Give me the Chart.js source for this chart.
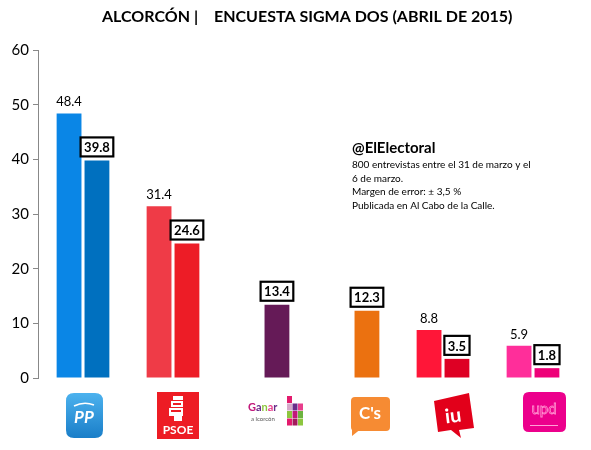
<!DOCTYPE html>
<html><head><meta charset="utf-8">
<script src="https://cdn.jsdelivr.net/npm/chart.js@4"></script>
<style>html,body{margin:0;padding:0;background:#fff}#wrap{width:591px;height:450px}</style>
</head><body><div id="wrap"><canvas id="c" width="591" height="450"></canvas></div>
<script>
const categories = ["PP", "PSOE", "Ganar Alcorcón", "C's", "IU", "UPyD"];
const series2011 = [48.4, 31.4, null, null, 8.8, 5.9];
const series2015 = [39.8, 24.6, 13.4, 12.3, 3.5, 1.8];
const colors2011 = ["#0A86E6", "#EF3B47", "#651A57", "#EB7110", "#FF1638", "#FF2E9A"];
const colors2015 = ["#0070BF", "#ED1C26", "#651A57", "#EB7110", "#DE0024", "#EE0078"];
const yTicks = [0, 10, 20, 30, 40, 50, 60];
const titleLeft = "ALCORCÓN |";
const titleRight = "ENCUESTA SIGMA DOS (ABRIL DE 2015)";
const noteTitle = "@ElElectoral";
const noteLines = ["800 entrevistas entre el 31 de marzo y el", "6 de marzo.", "Margen de error: ± 3,5 %", "Publicada en Al Cabo de la Calle."];
const FONT = "Lato, 'Open Sans', sans-serif";

function rr(ctx, x, y, w, h, r) {
  ctx.beginPath();
  ctx.moveTo(x + r, y); ctx.lineTo(x + w - r, y); ctx.quadraticCurveTo(x + w, y, x + w, y + r);
  ctx.lineTo(x + w, y + h - r); ctx.quadraticCurveTo(x + w, y + h, x + w - r, y + h);
  ctx.lineTo(x + r, y + h); ctx.quadraticCurveTo(x, y + h, x, y + h - r);
  ctx.lineTo(x, y + r); ctx.quadraticCurveTo(x, y, x + r, y); ctx.closePath();
}

const drawLogos = {
  PP(ctx, cx, top) {
    const g = ctx.createLinearGradient(0, top, 0, top + 45);
    g.addColorStop(0, "#4db3ef"); g.addColorStop(1, "#1b7fc9");
    ctx.fillStyle = g; rr(ctx, cx - 18, top + 1, 37, 45, 8); ctx.fill();
    ctx.fillStyle = "#fff"; ctx.font = "italic bold 17px " + FONT; ctx.textAlign = "center"; ctx.textBaseline = "middle";
    ctx.fillText("PP", cx, top + 26);
    ctx.beginPath(); ctx.moveTo(cx - 10, top + 14); ctx.quadraticCurveTo(cx, top + 9, cx + 10, top + 13);
    ctx.strokeStyle = "#fff"; ctx.lineWidth = 1.5; ctx.stroke();
  },
  PSOE(ctx, cx, top) {
    ctx.fillStyle = "#ED1C24"; ctx.fillRect(cx - 21, top, 42, 47);
    ctx.fillStyle = "#fff";
    ctx.fillRect(cx - 5, top + 4, 10, 4); ctx.fillRect(cx - 7, top + 9, 12, 6); ctx.fillRect(cx - 9, top + 16, 14, 8); ctx.fillRect(cx - 4, top + 24, 8, 5);
    ctx.fillStyle = "#ED1C24"; ctx.fillRect(cx - 5, top + 11, 8, 2); ctx.fillRect(cx - 7, top + 18, 10, 2);
    ctx.fillStyle = "#fff"; ctx.font = "bold 12px " + FONT; ctx.textAlign = "center"; ctx.textBaseline = "middle";
    ctx.fillText("PSOE", cx, top + 38);
  },
  Ganar(ctx, cx, top) {
    ctx.textAlign = "left"; ctx.textBaseline = "alphabetic";
    ctx.font = "bold 11px " + FONT;
    const parts = [["G", "#c2187a"], ["a", "#6a2c8a"], ["n", "#8dc63f"], ["a", "#e83e8c"], ["r", "#6a2c8a"]];
    let x = cx - 29;
    parts.forEach(([t, c]) => { ctx.fillStyle = c; ctx.fillText(t, x, top + 18); x += ctx.measureText(t).width; });
    ctx.font = "6px " + FONT; ctx.fillStyle = "#555"; ctx.fillText("a lcorcón", cx - 26, top + 28);
    const gc = ["#e31b6d", "#a3195b", "#8dc63f", "#d6a8c9", "#6a2c8a", "#e83e8c", "#8dc63f", "#c2187a", "#6cb33f"];
    for (let i = 0; i < 4; i++) for (let j = 0; j < 3; j++) {
      if (i === 0 && j > 0) continue;
      ctx.fillStyle = gc[(i * 3 + j) % gc.length];
      ctx.fillRect(cx + 10 + j * 5.5, top + 3 + i * 7.5, 5, 7);
    }
  },
  Cs(ctx, cx, top) {
    ctx.fillStyle = "#F68B33"; rr(ctx, cx - 19, top + 3, 39, 34, 4); ctx.fill();
    ctx.beginPath(); ctx.moveTo(cx - 18, top + 34); ctx.lineTo(cx - 18, top + 42); ctx.lineTo(cx - 8, top + 34); ctx.closePath(); ctx.fill();
    ctx.fillStyle = "#fff"; ctx.font = "bold 17px " + FONT; ctx.textAlign = "center"; ctx.textBaseline = "middle";
    ctx.fillText("C's", cx, top + 20);
  },
  IU(ctx, cx, top) {
    ctx.fillStyle = "#E2001A";
    ctx.beginPath(); ctx.moveTo(cx - 19, top + 9); ctx.lineTo(cx + 16, top + 1); ctx.lineTo(cx + 21, top + 36);
    ctx.lineTo(cx + 6, top + 38); ctx.lineTo(cx + 8, top + 46); ctx.lineTo(cx - 2, top + 38); ctx.lineTo(cx - 15, top + 40); ctx.closePath(); ctx.fill();
    ctx.fillStyle = "#fff"; ctx.font = "bold 20px " + FONT; ctx.textAlign = "center"; ctx.textBaseline = "middle";
    ctx.save(); ctx.translate(cx, top + 24); ctx.rotate(-0.12); ctx.fillText("iu", 0, 0); ctx.restore();
  },
  UPyD(ctx, cx, top) {
    ctx.fillStyle = "#EC008C"; rr(ctx, cx - 21, top, 43, 40, 6); ctx.fill();
    ctx.strokeStyle = "#ff8fcf"; ctx.lineWidth = 0.8; ctx.font = "15px " + FONT; ctx.textAlign = "center"; ctx.textBaseline = "middle";
    ctx.strokeText("upd", cx, top + 17);
    ctx.fillStyle = "#ff9fd6"; ctx.fillRect(cx - 14, top + 33, 28, 1);
  }
};
const logoKeys = ["PP", "PSOE", "Ganar", "Cs", "IU", "UPyD"];
const logoDx = [1, 5, 14, 17, 10, 11];
const logoTop = [392, 392, 393, 394, 392, 392];

const overlay = {
  id: "overlay",
  afterDatasetsDraw(chart) {
    const ctx = chart.ctx;
    ctx.save();
    const m0 = chart.getDatasetMeta(0);
    m0.data.forEach((el, i) => {
      const v = series2011[i]; if (v == null) return;
      ctx.fillStyle = "#000"; ctx.font = "13px " + FONT; ctx.textAlign = "center"; ctx.textBaseline = "alphabetic";
      ctx.fillText(v.toFixed(1), el.x, el.y - 7);
    });
    const m1 = chart.getDatasetMeta(1);
    m1.data.forEach((el, i) => {
      const v = series2015[i]; if (v == null) return;
      const t = v.toFixed(1);
      ctx.font = "bold 13px " + FONT;
      const w = ctx.measureText(t).width + 7, h = 19;
      const bx = el.x - w / 2, by = el.y - 4 - h;
      ctx.fillStyle = "#fff"; ctx.fillRect(bx, by, w, h);
      ctx.strokeStyle = "#000"; ctx.lineWidth = 2.2; ctx.strokeRect(bx, by, w, h);
      ctx.fillStyle = "#000"; ctx.textAlign = "center"; ctx.textBaseline = "middle";
      ctx.fillText(t, el.x, by + h / 2 + 1);
    });
    const xs = chart.scales.x;
    logoKeys.forEach((k, i) => drawLogos[k](ctx, xs.getPixelForValue(i) + logoDx[i], logoTop[i]));
    ctx.fillStyle = "#000"; ctx.textBaseline = "middle"; ctx.textAlign = "left";
    ctx.font = "bold 16px " + FONT;
    ctx.fillText(titleLeft, 102, 17);
    ctx.fillText(titleRight, 214, 17);
    ctx.font = "bold 15px " + FONT; ctx.textBaseline = "alphabetic";
    ctx.fillText(noteTitle, 352, 153);
    ctx.font = "10px " + FONT;
    noteLines.forEach((l, i) => ctx.fillText(l, 352, 168 + i * 13.5));
    ctx.restore();
  }
};

new Chart(document.getElementById("c"), {
  type: "bar",
  data: {
    labels: categories,
    datasets: [
      { label: "2011", data: series2011, backgroundColor: colors2011 },
      { label: "2015", data: series2015, backgroundColor: colors2015 }
    ]
  },
  options: {
    responsive: false, animation: false, devicePixelRatio: 1,
    layout: { padding: { top: 50, right: 13, bottom: 64, left: 0 } },
    datasets: { bar: { categoryPercentage: 0.62, barPercentage: 0.89 } },
    plugins: { legend: { display: false }, tooltip: { enabled: false }, title: { display: false } },
    scales: {
      x: { grid: { display: false }, border: { display: false }, ticks: { display: false } },
      y: {
        min: 0, max: 60,
        afterBuildTicks: (s) => { s.ticks = yTicks.map(v => ({ value: v })); },
        afterFit: (s) => { s.width = 38; },
        grid: { drawOnChartArea: false, drawTicks: true, tickLength: 5, color: "#888" },
        border: { display: true, color: "#888", width: 1 },
        ticks: { color: "#000", font: { family: FONT, size: 15 }, padding: 4 }
      }
    }
  },
  plugins: [overlay]
});
</script></body></html>
